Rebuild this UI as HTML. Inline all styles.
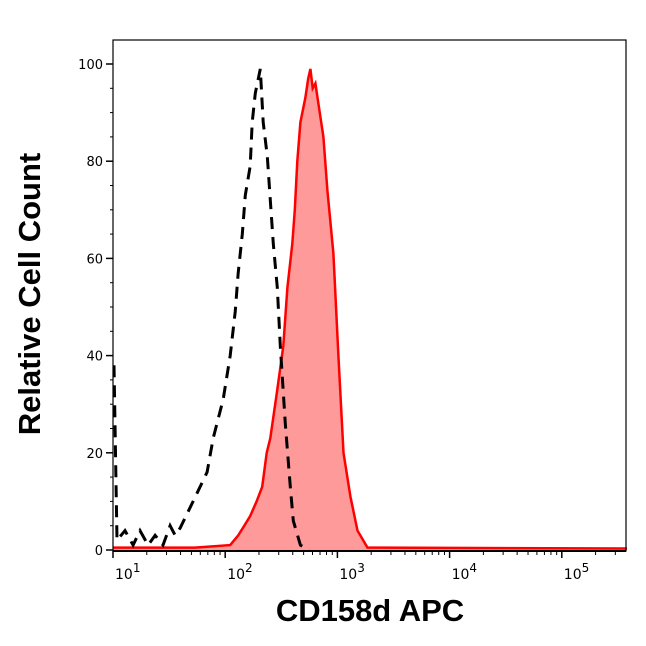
<!DOCTYPE html>
<html><head><meta charset="utf-8"><style>
body{margin:0;background:#fff;}
svg text{font-family:"DejaVu Sans","Liberation Sans",sans-serif;}
</style></head><body>
<svg id="chart" width="646" height="641" xmlns="http://www.w3.org/2000/svg">
<g id="plot"></g>
<text transform="translate(40,294) rotate(-90)" text-anchor="middle" font-size="31" font-weight="bold" style="font-family:'Liberation Sans',sans-serif">Relative Cell Count</text>
<text x="370" y="621" text-anchor="middle" font-size="31" font-weight="bold" style="font-family:'Liberation Sans',sans-serif">CD158d APC</text>
</svg>
<script>
const redLog=[1.0,1.732,2.045,2.116,2.170,2.223,2.280,2.330,2.370,2.402,2.464,2.518,2.554,2.598,2.620,2.643,2.670,2.714,2.740,2.759,2.780,2.804,2.830,2.875,2.911,2.964,3.009,3.054,3.116,3.179,3.268,5.58];
const redVal=[0.5,0.5,1,3,5,7,10,13,20,23,33,42,54,63,70,80,88,93,97,99,95,96,92,85,74,61,40,20,11,4,0.5,0.3];
const ctlLog=[1.009,1.036,1.107,1.179,1.241,1.313,1.375,1.446,1.509,1.554,1.598,1.714,1.839,1.893,1.982,2.045,2.089,2.116,2.152,2.179,2.223,2.241,2.268,2.313,2.339,2.375,2.402,2.429,2.464,2.491,2.536,2.580,2.607,2.670,2.75];
const ctlVal=[38,2,4,1,4,1,3,1,5,3,4.5,10,16,23,31,40,49,57,65,73,79,88,94,99,88,81,72,63,54,42,26,13,6,1,0];
const yTicks=[0,20,40,60,80,100];
const xDecades=[1,2,3,4,5];
const L=113,R=626,T=40,B=551;
const X=v=>L+(v-1)*112.2;
const Y=v=>550-v*4.86;
const NS="http://www.w3.org/2000/svg";
const g=document.getElementById('plot');
function mk(t,a){const e=document.createElementNS(NS,t);for(const k in a)e.setAttribute(k,a[k]);g.appendChild(e);return e;}
let d='M'+X(redLog[0])+','+Y(0);
redLog.forEach((v,i)=>{d+=' L'+X(v).toFixed(1)+','+Y(redVal[i]).toFixed(1);});
d+=' L'+X(redLog[redLog.length-1])+','+Y(0)+' Z';
const fill=mk('path',{d:d,fill:'#ff9a9a',stroke:'none'});


let d2='';
redLog.forEach((v,i)=>{d2+=(i?' L':'M')+X(v).toFixed(1)+','+Y(redVal[i]).toFixed(1);});
const rl=mk('path',{d:d2,fill:'none',stroke:'#ff0000','stroke-width':2.5});


let d3='';
ctlLog.forEach((v,i)=>{d3+=(i?' L':'M')+X(v).toFixed(1)+','+Y(ctlVal[i]).toFixed(1);});
const cl=mk('path',{d:d3,fill:'none',stroke:'#000','stroke-width':3,'stroke-dasharray':'12 8'});


const fr=mk('rect',{x:L,y:T,width:R-L,height:B-T,fill:'none',stroke:'#000','stroke-width':1.2});


mk('line',{x1:L,y1:B,x2:R,y2:B,stroke:'#000','stroke-width':2});
for(let v=0;v<=100;v+=5){const maj=v%20===0;mk('line',{x1:L-(maj?7:3),x2:L,y1:Y(v),y2:Y(v),stroke:'#000','stroke-width':maj?1.5:1});}
yTicks.forEach(v=>{const t=mk('text',{x:L-10,y:Y(v)+5,'text-anchor':'end','font-size':13});t.textContent=v;

});
for(let dec=1;dec<=5;dec++){for(let m=1;m<10;m++){const lv=dec+Math.log10(m);const x=X(lv);if(x>R)break;mk('line',{x1:x,x2:x,y1:B,y2:B+(m===1?7:4),stroke:'#000','stroke-width':m===1?1.5:1});}}
xDecades.forEach(dec=>{const t=mk('text',{x:X(dec)+2,y:B+28,'font-size':14});t.innerHTML='10<tspan dy="-7" font-size="12">'+dec+'</tspan>';

});
</script>
</body></html>
